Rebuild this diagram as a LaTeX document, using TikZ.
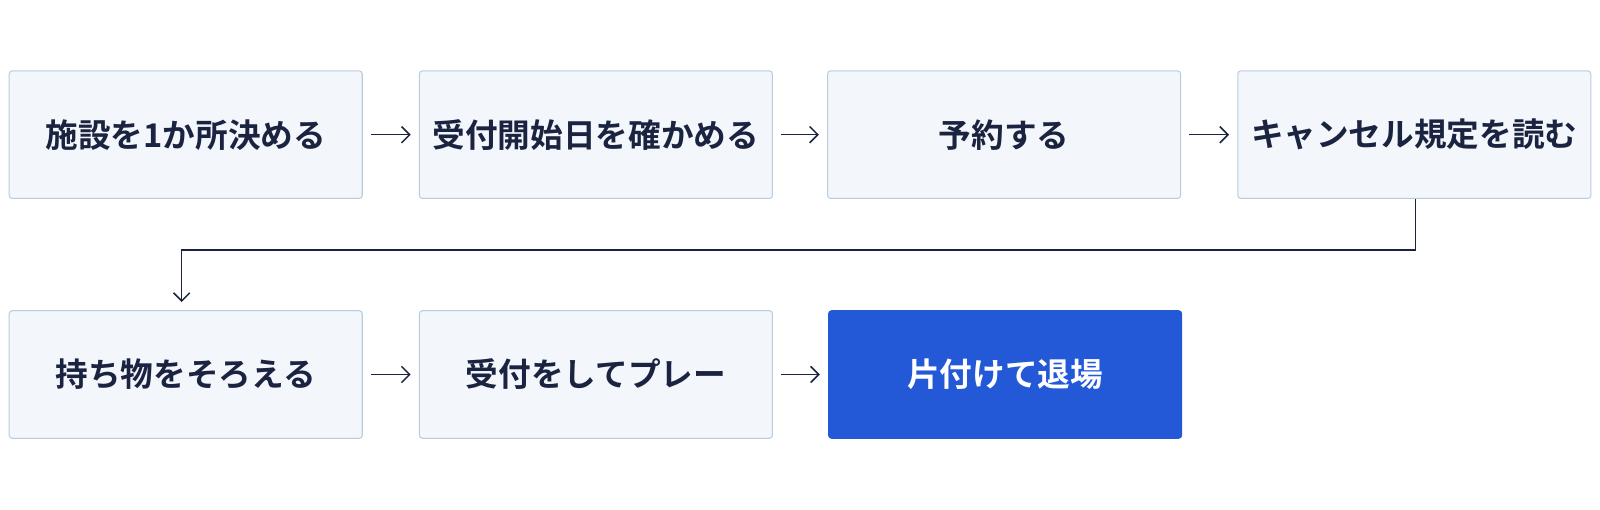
\documentclass[tikz,border=0pt]{standalone}
\usepackage{fontspec}
\newfontfamily\cjk{Noto Sans CJK JP Bold}
\usetikzlibrary{arrows.meta}
\definecolor{boxfill}{HTML}{F3F6FA}
\definecolor{boxline}{HTML}{B8CCE0}
\definecolor{ink}{HTML}{1A2340}
\definecolor{accent}{HTML}{2358D6}
\begin{document}
\begin{tikzpicture}[x=1pt,y=-1pt,
  box/.style={draw=boxline,fill=boxfill,rounded corners=3pt,line width=1pt,minimum width=346pt,minimum height=125pt,inner sep=0pt,text=ink,font=\cjk\fontsize{32}{36}\selectfont},
  hot/.style={box,draw=accent,fill=accent,text=white},
  arr/.style={draw=ink,line width=1.5pt,-{Straight Barb[length=8pt,width=16pt]},shorten <=8pt,shorten >=8pt}]
\useasboundingbox[fill=white] (0,0) rectangle (1568,499);
\node[box] (a) at (182,132) {施設を1か所決める};
\node[box] (b) at (584,132) {受付開始日を確かめる};
\node[box] (c) at (984,132) {予約する};
\node[box] (d) at (1386,132) {キャンセル規定を読む};
\node[box] (e) at (182,367) {持ち物をそろえる};
\node[box] (f) at (584,367) {受付をしてプレー};
\node[hot] (g) at (985,367) {片付けて退場};
\draw[arr] (a) -- (b);
\draw[arr] (b) -- (c);
\draw[arr] (c) -- (d);
\draw[arr] (e) -- (f);
\draw[arr] (f) -- (g);
\coordinate (k1) at (1387,245);
\coordinate (k2) at (178,245);
\draw[draw=ink,line width=1.5pt,-{Straight Barb[length=8pt,width=16pt]},shorten >=8pt] (d.south -| k1) -- (k1) -- (k2) -- (e.north -| k2);
\end{tikzpicture}
\end{document}
